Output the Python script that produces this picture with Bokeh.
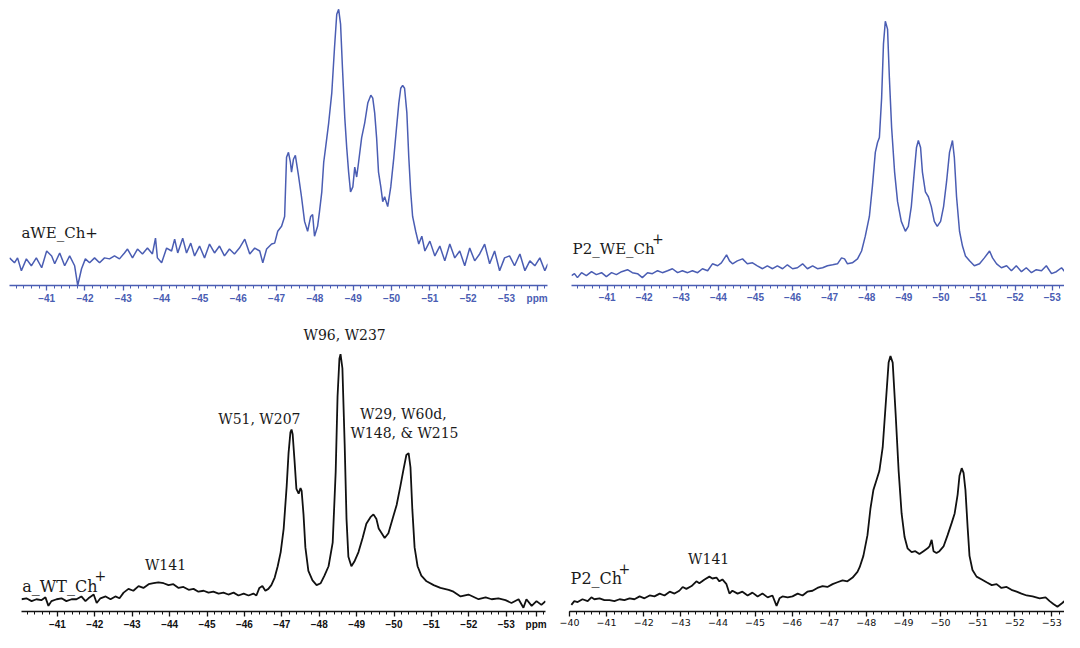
from bokeh.plotting import figure
from bokeh.models import Range1d, FixedTicker, Label
from bokeh.layouts import column, row
from bokeh.embed import file_html
from bokeh.resources import INLINE

# ---------------- data (ppm, intensity) ----------------
awe_ppm = [-40.03, -40.16, -40.24, -40.34, -40.47, -40.60, -40.73, -40.87, -41.00, -41.13,
           -41.21, -41.34, -41.47, -41.60, -41.73, -41.81, -41.91, -42.01, -42.12, -42.25,
           -42.38, -42.51, -42.64, -42.77, -42.90, -43.03, -43.11, -43.24, -43.37, -43.50,
           -43.63, -43.76, -43.84, -43.89, -44.00, -44.13, -44.26, -44.34, -44.42, -44.55,
           -44.65, -44.76, -44.86, -44.99, -45.12, -45.25, -45.38, -45.51, -45.64, -45.77,
           -45.90, -46.03, -46.17, -46.30, -46.43, -46.56, -46.64, -46.74, -46.87, -46.95,
           -47.03, -47.13, -47.21, -47.26, -47.31, -47.36, -47.39, -47.44, -47.49, -47.57,
           -47.65, -47.73, -47.81, -47.89, -47.94, -47.99, -48.07, -48.12, -48.18, -48.23,
           -48.28, -48.36, -48.44, -48.51, -48.57, -48.62, -48.67, -48.72, -48.78, -48.83,
           -48.88, -48.93, -48.99, -49.04, -49.09, -49.14, -49.22, -49.30, -49.38, -49.46,
           -49.51, -49.56, -49.61, -49.66, -49.72, -49.77, -49.82, -49.90, -49.98, -50.06,
           -50.13, -50.19, -50.24, -50.29, -50.34, -50.40, -50.45, -50.50, -50.55, -50.63,
           -50.71, -50.79, -50.87, -51.00, -51.13, -51.26, -51.39, -51.52, -51.65, -51.78,
           -51.91, -52.04, -52.17, -52.30, -52.43, -52.56, -52.69, -52.82, -52.95, -53.08,
           -53.21, -53.35, -53.48, -53.61, -53.74, -53.87, -54.00, -54.08]
awe_int = [28, 23, 28, 15, 27, 20, 28, 18, 35, 30,
           22, 33, 20, 30, 20, 0, 17, 27, 23, 28,
           23, 28, 27, 30, 27, 33, 37, 28, 37, 32,
           38, 32, 48, 28, 23, 38, 35, 47, 33, 48,
           33, 43, 30, 40, 28, 42, 33, 40, 30, 37,
           32, 38, 47, 32, 38, 35, 23, 37, 42, 43,
           55, 60, 70, 130, 135, 125, 115, 128, 132, 112,
           90, 65, 55, 70, 72, 50, 60, 75, 95, 125,
           140, 165, 195, 240, 275, 280, 265, 220, 170, 140,
           115, 95, 100, 120, 110, 125, 150, 165, 185, 193,
           190, 175, 150, 115, 100, 85, 90, 80, 100, 130,
           160, 185, 200, 203, 200, 175, 130, 95, 70, 55,
           42, 50, 35, 45, 30, 40, 25, 42, 28, 35,
           20, 38, 25, 32, 42, 22, 35, 15, 28, 30,
           20, 32, 15, 25, 20, 28, 15, 22]

p2we_ppm = [-40.04, -40.12, -40.20, -40.31, -40.44, -40.58, -40.71, -40.85, -40.98, -41.12,
            -41.25, -41.39, -41.55, -41.68, -41.82, -41.95, -42.09, -42.22, -42.36, -42.49,
            -42.63, -42.76, -42.90, -43.03, -43.17, -43.30, -43.44, -43.57, -43.71, -43.84,
            -43.98, -44.08, -44.22, -44.30, -44.38, -44.51, -44.65, -44.78, -44.92, -45.05,
            -45.19, -45.32, -45.46, -45.59, -45.73, -45.86, -46.00, -46.13, -46.27, -46.40,
            -46.54, -46.67, -46.81, -46.94, -47.08, -47.21, -47.32, -47.40, -47.48, -47.61,
            -47.75, -47.86, -47.96, -48.07, -48.15, -48.23, -48.29, -48.34, -48.40, -48.45,
            -48.50, -48.56, -48.61, -48.67, -48.75, -48.83, -48.93, -49.04, -49.12, -49.20,
            -49.28, -49.34, -49.39, -49.45, -49.50, -49.58, -49.66, -49.74, -49.82, -49.90,
            -49.99, -50.07, -50.15, -50.23, -50.31, -50.36, -50.42, -50.50, -50.58, -50.66,
            -50.77, -50.90, -51.04, -51.17, -51.31, -51.39, -51.50, -51.63, -51.77, -51.90,
            -52.03, -52.17, -52.30, -52.44, -52.57, -52.71, -52.84, -52.98, -53.11, -53.25,
            -53.38, -53.52]
p2we_int = [12, 14, 10, 15, 12, 16, 13, 15, 11, 15,
            13, 16, 18, 15, 14, 10, 15, 14, 17, 15,
            17, 19, 15, 17, 15, 17, 15, 19, 17, 24,
            22, 25, 33, 27, 24, 27, 29, 24, 25, 22,
            19, 22, 19, 22, 19, 23, 19, 20, 24, 19,
            22, 19, 20, 22, 23, 24, 30, 29, 24, 25,
            29, 37, 52, 72, 102, 137, 147, 152, 192, 247,
            270, 262, 212, 162, 117, 87, 67, 57, 62, 82,
            117, 142, 149, 142, 117, 97, 92, 82, 67, 62,
            67, 82, 107, 137, 149, 132, 92, 57, 42, 32,
            27, 22, 24, 30, 37, 30, 24, 20, 22, 17,
            22, 16, 20, 15, 18, 17, 22, 14, 16, 20,
            14, 17]

awt_ppm = [-40.04, -40.17, -40.31, -40.44, -40.57, -40.68, -40.76, -40.84, -40.98, -41.11,
           -41.24, -41.38, -41.51, -41.64, -41.75, -41.83, -41.97, -42.05, -42.15, -42.29,
           -42.42, -42.55, -42.66, -42.77, -42.90, -43.03, -43.17, -43.30, -43.44, -43.57,
           -43.70, -43.84, -43.97, -44.10, -44.24, -44.37, -44.51, -44.64, -44.77, -44.91,
           -45.04, -45.17, -45.31, -45.44, -45.57, -45.71, -45.84, -45.98, -46.11, -46.24,
           -46.32, -46.40, -46.48, -46.56, -46.64, -46.72, -46.81, -46.89, -46.97, -47.05,
           -47.13, -47.18, -47.23, -47.26, -47.29, -47.34, -47.39, -47.45, -47.50, -47.53,
           -47.58, -47.63, -47.71, -47.82, -47.93, -48.04, -48.14, -48.25, -48.36, -48.44,
           -48.49, -48.54, -48.57, -48.62, -48.68, -48.73, -48.78, -48.86, -48.94, -49.05,
           -49.16, -49.26, -49.37, -49.45, -49.53, -49.59, -49.67, -49.75, -49.85, -49.96,
           -50.07, -50.17, -50.25, -50.33, -50.39, -50.44, -50.49, -50.55, -50.63, -50.73,
           -50.87, -51.06, -51.24, -51.46, -51.59, -51.78, -51.99, -52.26, -52.45, -52.61,
           -52.79, -52.98, -53.14, -53.33, -53.46, -53.54, -53.68, -53.81, -53.94, -54.05]
awt_int = [13, 14, 11, 13, 12, 15, 6, 11, 13, 14,
           11, 13, 13, 16, 11, 14, 18, 9, 14, 16,
           13, 16, 14, 20, 24, 22, 27, 25, 29, 30,
           31, 30, 28, 29, 25, 26, 23, 24, 21, 22,
           20, 21, 19, 20, 18, 20, 17, 19, 17, 19,
           17, 25, 27, 22, 24, 28, 36, 48, 63, 88,
           133, 168, 190, 193, 188, 160, 130, 125, 131, 128,
           103, 68, 43, 33, 28, 30, 38, 48, 73, 148,
           228, 268, 273, 258, 178, 98, 58, 48, 53, 63,
           78, 93, 100, 103, 98, 88, 83, 78, 83, 98,
           113, 133, 150, 166, 168, 153, 108, 68, 48, 38,
           32, 28, 25, 23, 21, 16, 18, 13, 15, 13,
           14, 12, 9, 13, 4, 13, 6, 11, 7, 11]

p2_ppm = [-40.05, -40.13, -40.22, -40.35, -40.49, -40.59, -40.67, -40.81, -40.94, -41.08,
          -41.21, -41.35, -41.48, -41.62, -41.75, -41.89, -42.02, -42.16, -42.29, -42.43,
          -42.56, -42.70, -42.83, -42.96, -43.05, -43.15, -43.29, -43.42, -43.50, -43.64,
          -43.77, -43.85, -43.96, -44.04, -44.12, -44.23, -44.31, -44.39, -44.53, -44.66,
          -44.80, -44.93, -45.07, -45.20, -45.34, -45.47, -45.58, -45.66, -45.74, -45.88,
          -46.01, -46.15, -46.28, -46.41, -46.55, -46.68, -46.82, -46.95, -47.09, -47.22,
          -47.36, -47.49, -47.63, -47.76, -47.82, -47.92, -48.03, -48.11, -48.19, -48.27,
          -48.35, -48.44, -48.52, -48.60, -48.65, -48.71, -48.79, -48.87, -48.95, -49.03,
          -49.11, -49.22, -49.32, -49.43, -49.54, -49.65, -49.70, -49.76, -49.81, -49.89,
          -49.97, -50.08, -50.19, -50.30, -50.38, -50.46, -50.51, -50.57, -50.62, -50.67,
          -50.73, -50.78, -50.86, -50.97, -51.11, -51.24, -51.38, -51.51, -51.64, -51.78,
          -51.91, -52.05, -52.18, -52.32, -52.48, -52.67, -52.83, -52.94, -53.04, -53.15,
          -53.28, -53.42, -53.53]
p2_int = [7, 11, 10, 13, 11, 15, 13, 14, 12, 12,
          11, 13, 12, 14, 13, 16, 14, 17, 16, 19,
          17, 21, 19, 22, 26, 24, 27, 32, 30, 34,
          37, 35, 36, 32, 34, 29, 19, 22, 19, 21,
          17, 20, 16, 19, 15, 17, 6, 14, 16, 15,
          16, 19, 17, 21, 22, 25, 27, 26, 29, 31,
          33, 32, 36, 42, 47, 59, 81, 109, 129, 139,
          149, 174, 219, 264, 271, 264, 209, 149, 104, 79,
          67, 63, 64, 61, 64, 67, 69, 76, 64, 62,
          64, 69, 81, 94, 104, 124, 144, 152, 147, 129,
          89, 59, 44, 37, 34, 31, 28, 29, 25, 26,
          23, 21, 19, 17, 16, 14, 15, 11, 8, 5,
          9, 14, 12]

BLUE = "#4a5db3"
BLACK = "#111111"
TXT = "#1a1a1a"


def make_fig(w, h, xr, yr, bl, br, bb, color, majors, lab_font, lab_style, lab_size,
             ppm_tick=None):
    p = figure(width=w, height=h, x_range=Range1d(*xr), y_range=Range1d(*yr),
               output_backend="svg", toolbar_location=None, y_axis_location=None,
               min_border_left=bl, min_border_right=br, min_border_top=0,
               min_border_bottom=bb)
    p.xgrid.visible = False
    p.ygrid.visible = False
    p.outline_line_color = None
    minors = [round(-40 - 0.2 * i, 1) for i in range(71)]
    ax = p.xaxis[0]
    ticks = list(majors)
    overrides = {t: "\u2212%d" % abs(t) for t in majors}
    if ppm_tick is not None:
        ticks.append(ppm_tick)
        overrides[ppm_tick] = "ppm"
    ax.ticker = FixedTicker(ticks=ticks, minor_ticks=minors)
    ax.major_label_overrides = overrides
    ax.axis_line_color = color
    ax.axis_line_width = 1.6
    ax.major_tick_line_color = color
    ax.minor_tick_line_color = color
    ax.major_tick_line_width = 1.3
    ax.minor_tick_line_width = 1.0
    ax.major_tick_in = 0
    ax.major_tick_out = 5
    ax.minor_tick_in = 0
    ax.minor_tick_out = 3
    ax.major_label_standoff = 2
    ax.major_label_text_color = color
    ax.major_label_text_font = lab_font
    ax.major_label_text_font_style = lab_style
    ax.major_label_text_font_size = lab_size
    return p


def lab(p, x, y, text, size, align="left"):
    p.add_layout(Label(x=x, y=y, text=text, text_font="DejaVu Serif",
                       text_font_size=size, text_color=TXT,
                       text_align=align, text_baseline="middle"))


maj1 = list(range(-41, -54, -1))
maj0 = list(range(-40, -54, -1))

# top-left: aWE_Ch+
p1 = make_fig(552, 306, (-40.03, -54.07), (0, 289), 9, 5, 17, BLUE, maj1,
              "Liberation Sans", "bold", "10px", ppm_tick=-53.8)
p1.line(awe_ppm, awe_int, line_color=BLUE, line_width=1.5)
lab(p1, -40.34, 53, "aWE_Ch+", "15px")

# top-right: P2_WE_Ch+
p2 = make_fig(512, 306, (-40.04, -53.33), (2, 291), 19, 0, 17, BLUE, maj1,
              "Liberation Sans", "bold", "10px")
p2.line(p2we_ppm, p2we_int, line_color=BLUE, line_width=1.5)
lab(p2, -40.07, 39, "P2_WE_Ch", "15px")
lab(p2, -42.37, 50, "+", "14px", "center")

# bottom-left: a_WT_Ch+
p3 = make_fig(552, 326, (-40.04, -54.05), (0, 323.5), 21, 7, 18, BLACK, maj1,
              "Liberation Sans", "bold", "10px", ppm_tick=-53.8)
p3.line(awt_ppm, awt_int, line_color=BLACK, line_width=1.8)
lab(p3, -40.06, 26, "a_WT_Ch", "16px")
lab(p3, -42.15, 38, "+", "14px", "center")
lab(p3, -43.89, 49, "W141", "14px", "center")
lab(p3, -48.68, 293, "W96, W237", "14px", "center")
lab(p3, -46.40, 204, "W51, W207", "14px", "center")
lab(p3, -50.25, 210, "W29, W60d,", "14px", "center")
lab(p3, -50.28, 189, "W148, & W215", "14px", "center")

# bottom-right: P2_Ch+
p4 = make_fig(512, 326, (-40.0, -53.34), (0, 323.5), 17, 0, 18, BLACK, maj0,
              "DejaVu Sans", "normal", "9.5px")
p4.line(p2_ppm, p2_int, line_color=BLACK, line_width=1.8)
lab(p4, -40.03, 35, "P2_Ch", "16px")
lab(p4, -41.48, 46, "+", "14px", "center")
lab(p4, -43.75, 56, "W141", "14px", "center")

layout = column(row(p1, p2), row(p3, p4))
open("out.html", "w").write(file_html(layout, INLINE))
